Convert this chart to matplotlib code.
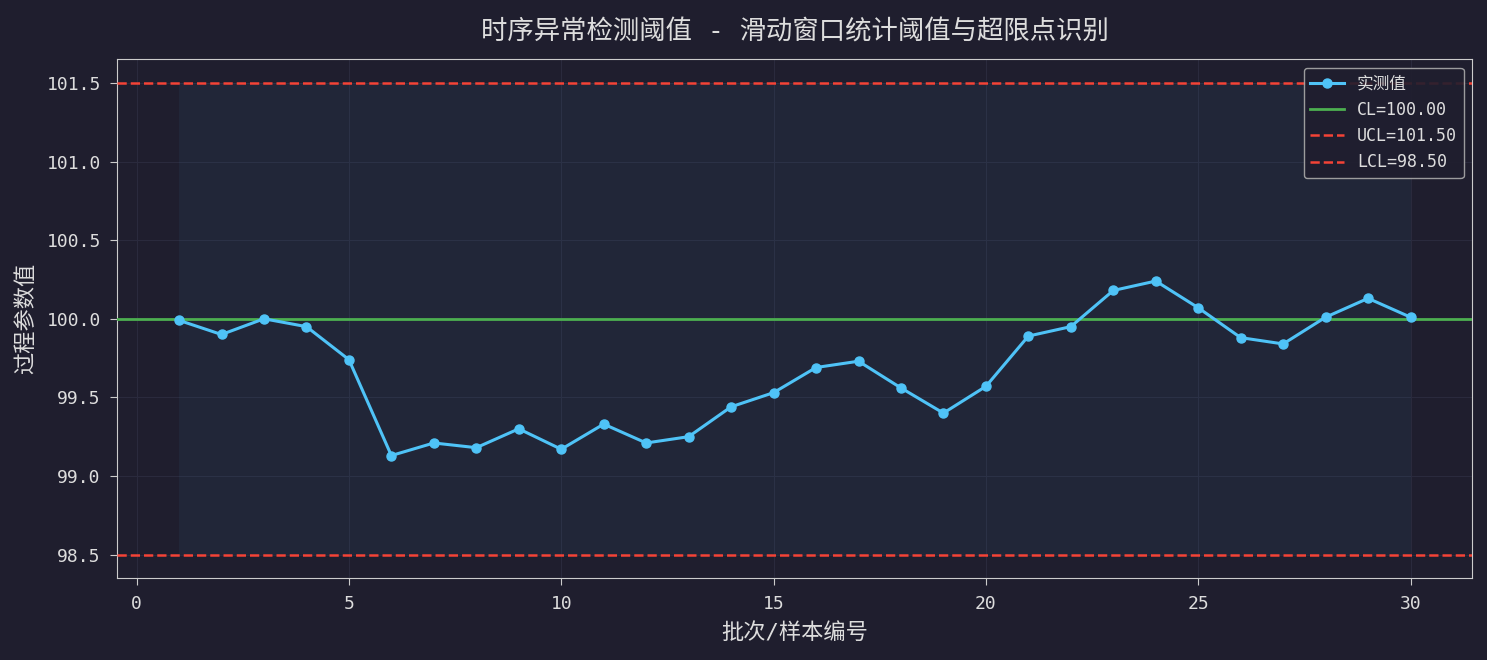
import numpy as np
import matplotlib
matplotlib.use("Agg")
import matplotlib.pyplot as plt

plt.rcParams['font.family'] = ['DejaVu Sans Mono', 'Noto Sans CJK SC']
plt.rcParams['axes.unicode_minus'] = False

batches = np.arange(1, 31)
values = [99.99, 99.90, 100.00, 99.95, 99.74, 99.13, 99.21, 99.18, 99.30, 99.17,
          99.33, 99.21, 99.25, 99.44, 99.53, 99.69, 99.73, 99.56, 99.40, 99.57,
          99.89, 99.95, 100.18, 100.24, 100.07, 99.88, 99.84, 100.01, 100.13, 100.01]
cl = 100.00
ucl = 101.50
lcl = 98.50

bg = '#1f1e2e'
text_c = '#dddddd'

fig, ax = plt.subplots(figsize=(14.87, 6.6), dpi=100)
fig.patch.set_facecolor(bg)
ax.set_facecolor(bg)

# control band
ax.fill_between(batches, lcl, ucl, color='#4fc3f7', alpha=0.05, linewidth=0)

ax.plot(batches, values, color='#4fc3f7', lw=2.2, marker='o', ms=6.5, label='实测值', zorder=4)
ax.axhline(cl, color='#4caf50', lw=2, label=f'CL={cl:.2f}', zorder=3)
ax.axhline(ucl, color='#f44336', lw=1.8, ls='--', label=f'UCL={ucl:.2f}', zorder=3)
ax.axhline(lcl, color='#f44336', lw=1.8, ls='--', label=f'LCL={lcl:.2f}', zorder=3)

ax.grid(True, color='#2a2a3d', lw=0.8)
ax.set_axisbelow(True)

for sp in ax.spines.values():
    sp.set_color('#cccccc')
ax.tick_params(colors='#cccccc', labelcolor=text_c, labelsize=13, length=5, pad=7)

ax.set_xlabel('批次/样本编号', color=text_c, fontsize=16, labelpad=7)
ax.set_ylabel('过程参数值', color=text_c, fontsize=16, labelpad=7)
ax.set_title('时序异常检测阈值 - 滑动窗口统计阈值与超限点识别', color=text_c, fontsize=19, pad=14)

leg = ax.legend(loc='upper right', fontsize=12, facecolor=bg, edgecolor='#aaaaaa', framealpha=0.9)
for t in leg.get_texts():
    t.set_color(text_c)

fig.subplots_adjust(left=0.079, right=0.99, top=0.91, bottom=0.124)
fig.savefig('out.png', dpi=100, facecolor=bg)
